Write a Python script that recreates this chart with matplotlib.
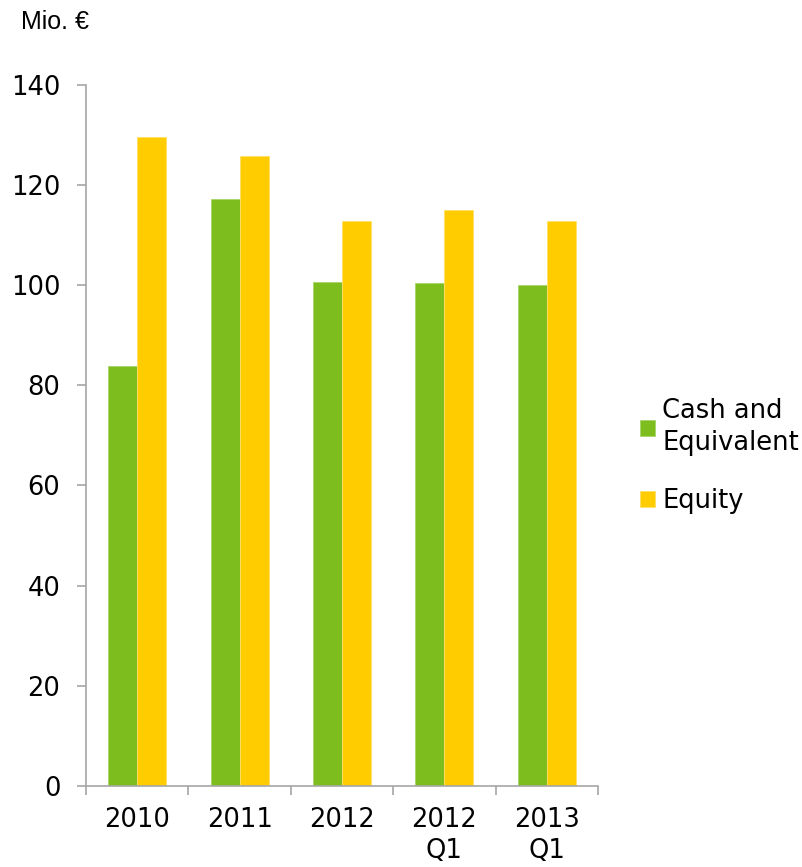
import matplotlib
matplotlib.use("Agg")
import matplotlib.pyplot as plt
import numpy as np

categories = ["2010", "2011", "2012", "2012\nQ1", "2013\nQ1"]
cash = [83.8, 117.2, 100.7, 100.4, 100.0]
equity = [129.6, 125.8, 112.8, 114.9, 112.8]
series_labels = ["Cash and\nEquivalent", "Equity"]
yticks = [0, 20, 40, 60, 80, 100, 120, 140]

green = "#7DBE1E"
yellow = "#FFCC00"
axis_grey = "#A6A6A6"

plt.rcParams['font.family'] = ['DejaVu Sans']

W, H = 803, 867
fig = plt.figure(figsize=(W / 100, H / 100), dpi=100)
left, right, bottom, top = 86 / W, 598 / W, 1 - 786 / H, 1 - 84.7 / H
ax = fig.add_axes([left, bottom, right - left, top - bottom])

x = np.arange(len(categories))
bw = 0.283
ax.bar(x - bw / 2, cash, width=bw, color=green, edgecolor="#A8D46A", linewidth=0.6, label=series_labels[0])
ax.bar(x + bw / 2, equity, width=bw, color=yellow, edgecolor="#FFE066", linewidth=0.6, label=series_labels[1])

ax.set_xlim(-0.5, len(categories) - 0.5)
ax.set_ylim(0, 140)
ax.set_yticks(yticks)

# category boundary ticks (major, no labels) and centered labels (minor)
ax.set_xticks(np.arange(len(categories) + 1) - 0.5)
ax.set_xticklabels([])
ax.set_xticks(x, minor=True)
ax.set_xticklabels(categories, minor=True, linespacing=1.25)

for s in ["top", "right"]:
    ax.spines[s].set_visible(False)
for s in ["left", "bottom"]:
    ax.spines[s].set_color(axis_grey)
    ax.spines[s].set_linewidth(1.2)

ax.tick_params(axis="y", which="major", direction="out", length=6.5, width=1.2,
               color=axis_grey, labelsize=18.5, pad=12, labelcolor="black")
ax.tick_params(axis="x", which="major", direction="out", length=6.5, width=1.2,
               color=axis_grey)
ax.tick_params(axis="x", which="minor", length=0, labelsize=18.5, pad=15, labelcolor="black")

fig.text(21 / W, 1 - 22 / H, "Mio. €", fontsize=18, family=["Liberation Sans", "DejaVu Sans"],
         ha="left", va="center")

leg = fig.legend(loc="upper left", bbox_to_anchor=(640 / W, 1 - 398 / H), frameon=False,
                 fontsize=18.5, handlelength=0.58, handleheight=0.58, handletextpad=0.28,
                 labelspacing=1.25, borderaxespad=0, borderpad=0)
for t in leg.get_texts():
    t.set_linespacing(1.3)

fig.savefig("out.png", dpi=100)
